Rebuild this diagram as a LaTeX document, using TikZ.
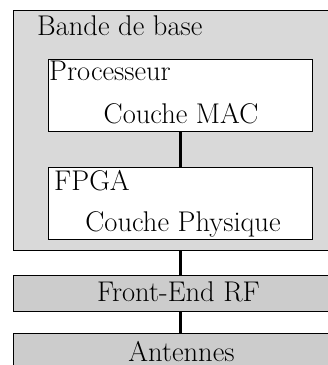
\documentclass[tikz,border=0pt]{standalone}
\begin{document}
\begin{tikzpicture}[x=1pt,y=-1pt,font=\fontsize{28.5}{34}\selectfont,
  box/.style={draw=black,line width=1.1pt,inner sep=0pt,anchor=north west,rectangle},
  graybox/.style={box,fill=black!15},
  darkbox/.style={box,fill=black!20},
  whitebox/.style={box,fill=white},
  lbl/.style={inner sep=0pt},
  conn/.style={draw=black,line width=2.6pt}]
\clip (0,0) rectangle (328,365);
\fill[white] (0,0) rectangle (328,365);
\node[graybox,minimum width=335pt,minimum height=240pt] (bb) at (12.5,10.3) {};
\node[lbl,anchor=base west] (bbl) at (37,35) {Bande de base};
\node[whitebox,minimum width=264pt,minimum height=71.4pt] (proc) at (48,59.3) {};
\node[lbl,anchor=base west] (procl) at (49,80) {Processeur};
\node[lbl,anchor=base] (mac) at (181,123) {Couche MAC};
\node[whitebox,minimum width=264pt,minimum height=72.3pt] (fpga) at (48,166.7) {};
\node[lbl,anchor=base west] (fpgal) at (54,190.7) {FPGA};
\node[lbl,anchor=base] (phy) at (183,231) {Couche Physique};
\node[darkbox,minimum width=335pt,minimum height=36pt] (rf) at (12.5,275) {};
\node[lbl,anchor=base] (rfl) at (178.5,301.7) {Front-End RF};
\node[darkbox,minimum width=335pt,minimum height=40pt] (ant) at (12.5,333) {};
\node[lbl,anchor=base] (antl) at (181.5,361.5) {Antennes};
\draw[conn] (proc.south) -- (fpga.north);
\draw[conn] (bb.south) -- (rf.north);
\draw[conn] (rf.south) -- (ant.north);
\end{tikzpicture}
\end{document}
